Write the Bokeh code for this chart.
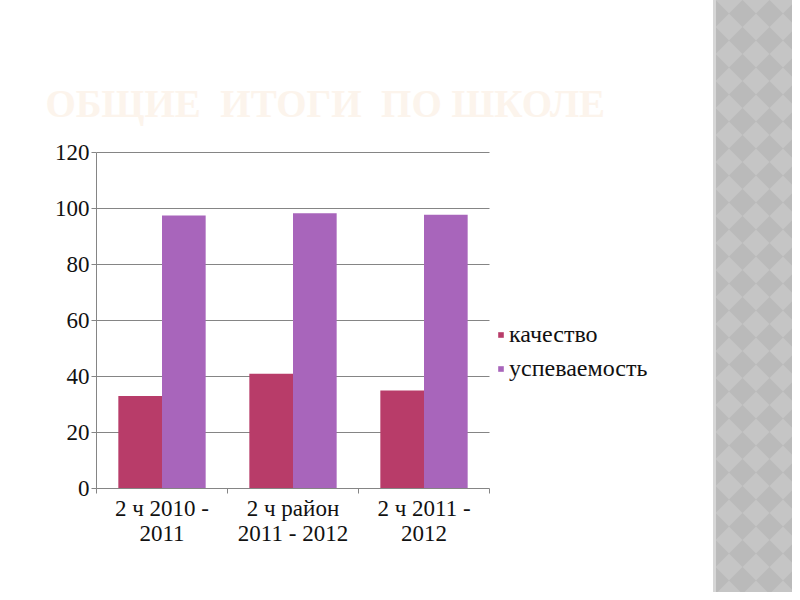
from bokeh.plotting import figure
from bokeh.models import (Range1d, FixedTicker, Legend, LegendItem, Title,
                          ColumnDataSource, Div)
from bokeh.layouts import row
from bokeh.embed import file_html
from bokeh.resources import INLINE
from bokeh.transform import dodge

# ---- data ----
categories = ["2 ч 2010 -\n2011", "2 ч район\n2011 - 2012", "2 ч 2011 -\n2012"]
kachestvo = [33, 41, 35]
uspevaemost = [97.5, 98.3, 97.8]
series_names = ["качество", "успеваемость"]
colors = ["#b83c69", "#a865bb"]
y_ticks = [0, 20, 40, 60, 80, 100, 120]
title_text = "ОБЩИЕ\u00a0 ИТОГИ\u00a0 ПО ШКОЛЕ"

FONT = "'Liberation Serif'"
LABEL_FONT = "'Times New Roman', 'Liberation Serif', 'DejaVu Serif', serif"
AXIS_GRAY = "#858585"
TEXT = "#111111"

# ---- geometry (pixels) ----
P_W, P_H = 713, 592           # chart figure
TOP = 140                     # space above the frame (title)
FRAME_L, FRAME_B = 96, 104    # borders for axes
PX_PER_CAT = 131              # width of one category slot
PX_PER_UNIT = 2.8             # pixels per value unit

n = len(categories)
centers = [i + 0.5 for i in range(n)]
bounds = [i for i in range(n + 1)]
src = ColumnDataSource(dict(x=centers, k=kachestvo, u=uspevaemost))

frame_w = P_W - FRAME_L
frame_h = P_H - FRAME_B - TOP
p = figure(width=P_W, height=P_H, output_backend="svg", toolbar_location=None,
           x_range=Range1d(0, frame_w / PX_PER_CAT),
           y_range=Range1d(0, frame_h / PX_PER_UNIT),
           min_border_left=FRAME_L, min_border_right=0,
           min_border_top=TOP, min_border_bottom=FRAME_B,
           outline_line_color=None, background_fill_color="white",
           border_fill_color="white")
p.grid.visible = False

# horizontal grid lines limited to the category span
p.segment(x0=[0] * (len(y_ticks) - 1), x1=[n] * (len(y_ticks) - 1),
          y0=y_ticks[1:], y1=y_ticks[1:], line_color=AXIS_GRAY, line_width=1)

bw = 1 / 3
r1 = p.vbar(x=dodge("x", -bw / 2, range=p.x_range), top="k", width=bw,
            source=src, fill_color=colors[0], line_color=None)
r2 = p.vbar(x=dodge("x", bw / 2, range=p.x_range), top="u", width=bw,
            source=src, fill_color=colors[1], line_color=None)

# x axis
p.xaxis.bounds = (0, n)
p.xaxis.ticker = FixedTicker(ticks=centers, minor_ticks=bounds)
p.xaxis.major_label_overrides = {c: lab for c, lab in zip(centers, categories)}
p.xaxis.major_tick_out = 0
p.xaxis.major_tick_in = 0
p.xaxis.minor_tick_out = 5
p.xaxis.minor_tick_in = 0
p.xaxis.minor_tick_line_color = AXIS_GRAY
p.xaxis.axis_line_color = AXIS_GRAY
p.xaxis.major_label_text_font = LABEL_FONT
p.xaxis.major_label_text_font_style = "normal"
p.xaxis.major_label_text_font_size = "23px"
p.xaxis.major_label_text_line_height = 1.0
p.xaxis.major_label_text_color = TEXT
p.xaxis.major_label_standoff = 2

# y axis
p.yaxis.bounds = (y_ticks[0], y_ticks[-1])
p.yaxis.ticker = FixedTicker(ticks=y_ticks)
p.yaxis.major_tick_out = 5
p.yaxis.major_tick_in = 0
p.yaxis.minor_tick_line_color = None
p.yaxis.major_tick_line_color = AXIS_GRAY
p.yaxis.axis_line_color = AXIS_GRAY
p.yaxis.major_label_text_font = LABEL_FONT
p.yaxis.major_label_text_font_style = "normal"
p.yaxis.major_label_text_font_size = "23px"
p.yaxis.major_label_text_color = TEXT
p.yaxis.major_label_standoff = 2

legend = Legend(items=[LegendItem(label=series_names[0], renderers=[r1]),
                       LegendItem(label=series_names[1], renderers=[r2])],
                location=(401, 106), orientation="vertical", padding=0, margin=0,
                border_line_color=None, background_fill_alpha=0,
                label_text_font=LABEL_FONT, label_text_font_style="normal",
                label_text_font_size="24px",
                label_text_color=TEXT,
                glyph_width=7, glyph_height=7, spacing=7, label_standoff=5)
p.add_layout(legend, "center")

title = Title(text=title_text, align="left", offset=-51, standoff=31,
              text_font=FONT, text_font_style="bold", text_font_size="39px",
              text_color="#fcf4ec")
p.add_layout(title, "above")

# decorative gray band on the right (slide background)
tile = ("url(\"data:image/svg+xml;utf8,<svg xmlns='http://www.w3.org/2000/svg' "
        "width='27' height='27'><rect width='27' height='27' fill='%23c5c5c5'/>"
        "<polygon points='13.5,0 27,13.5 13.5,27 0,13.5' fill='%23bababa'/></svg>\")")
band = Div(text="", width=79, height=P_H, margin=0,
           styles={"background-color": "#c3c3c3", "background-image": tile,
                   "background-position": "13px 0px",
                   "border-left": "3px solid #d6d6d6"})

layout = row(p, band)
open("out.html", "w").write(file_html(layout, INLINE))
